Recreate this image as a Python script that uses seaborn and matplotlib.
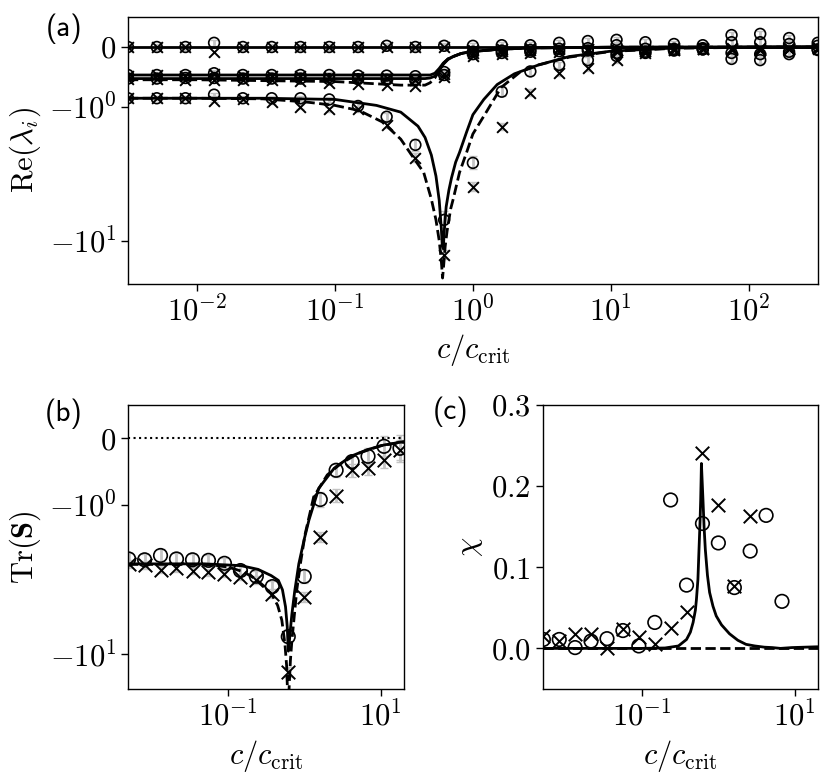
import matplotlib
matplotlib.use("Agg")
import matplotlib.pyplot as plt
import seaborn as sns

# sampled c/c_crit grid of the simulations
x_data = [0.00316, 0.00511, 0.00825, 0.0133, 0.0215, 0.0348, 0.0562, 0.0909, 0.147,
          0.237, 0.383, 0.619, 1.0, 1.62, 2.61, 4.22, 6.81, 11.0, 17.8, 28.7,
          46.4, 75.0, 121.0, 196.0, 316.0]

# (a) eigenvalues, circles
ca1 = [0.0, 0.0, 0.0, 0.07, 0.0, 0.0, 0.0, 0.0, 0.0, 0.02, 0.0, 0.02,
       0.02, 0.03, 0.03, 0.07, 0.1, 0.12, 0.08, 0.05, 0.03, 0.2, 0.22, 0.15, 0.07]
ca2 = [-0.47, -0.47, -0.47, -0.44, -0.47, -0.47, -0.47, -0.47, -0.48, -0.48, -0.49, -0.42,
       -0.08, -0.06, -0.05, -0.03, -0.02, 0.03, -0.03, -0.03, -0.02, 0.08, 0.08, 0.05, 0.02]
ca3 = [-0.53, -0.53, -0.52, -0.52, -0.53, -0.53, -0.53, -0.54, -0.54, -0.55, -0.56, -0.47,
       -0.12, -0.1, -0.08, -0.07, -0.06, -0.1, -0.08, -0.05, -0.04, -0.2, -0.22, -0.12, -0.05]
ca4 = [-0.86, -0.86, -0.86, -0.8, -0.86, -0.86, -0.86, -0.88, -0.99, -1.19, -1.93, -7.0,
       -2.63, -0.75, -0.41, -0.3, -0.22, -0.15, -0.1, -0.06, -0.04, -0.1, -0.12, -0.08, -0.04]
# (a) eigenvalues, crosses
xa1 = [0.0, 0.0, 0.0, -0.08, 0.0, 0.0, 0.0, 0.0, 0.0, 0.0, 0.0, 0.0,
       -0.05, -0.03, -0.02, -0.02, -0.03, -0.05, -0.06, -0.02, -0.02, -0.03, -0.05, -0.03, -0.02]
xa2 = [-0.48, -0.47, -0.48, -0.46, -0.48, -0.48, -0.49, -0.5, -0.5, -0.52, -0.55, -0.45,
       -0.1, -0.07, -0.05, -0.04, -0.04, -0.05, -0.04, -0.03, -0.03, -0.04, -0.04, -0.03, -0.02]
xa3 = [-0.54, -0.54, -0.55, -0.56, -0.55, -0.56, -0.57, -0.6, -0.62, -0.64, -0.66, -0.5,
       -0.15, -0.12, -0.1, -0.08, -0.07, -0.08, -0.06, -0.05, -0.04, -0.05, -0.05, -0.04, -0.03]
xa4 = [-0.86, -0.86, -0.86, -0.9, -0.88, -0.93, -1.0, -1.05, -1.05, -1.37, -2.41, -12.8,
       -3.95, -1.41, -0.77, -0.44, -0.36, -0.22, -0.1, -0.05, -0.03, -0.02, -0.02, -0.01, -0.01]
ea4 = [0.03, 0.03, 0.03, 0.03, 0.03, 0.03, 0.04, 0.04, 0.05, 0.08, 0.2, 1.0,
       0.3, 0.08, 0.06, 0.05, 0.05, 0.05, 0.05, 0.05, 0.05, 0.06, 0.06, 0.05, 0.04]

# (a) theory curves
xa_m = [0.00316, 0.01, 0.1, 0.3, 0.45, 0.49, 0.53, 0.57, 0.61, 0.66, 0.72, 0.82, 0.95,
        1.5, 2.6, 10.0, 316.0]
ya_s2 = [-0.47, -0.47, -0.47, -0.47, -0.47, -0.47, -0.44, -0.36, -0.27, -0.2, -0.16,
         -0.11, -0.08, -0.04, -0.015, -0.004, 0.0]
ya_s3 = [-0.53, -0.53, -0.53, -0.53, -0.53, -0.52, -0.49, -0.4, -0.29, -0.21, -0.16,
         -0.11, -0.08, -0.04, -0.015, -0.004, 0.0]
ya_d2 = [-0.55, -0.55, -0.58, -0.64, -0.64, -0.6, -0.52, -0.4, -0.28, -0.2, -0.16,
         -0.11, -0.08, -0.04, -0.015, -0.004, 0.0]
xa_s4 = [0.00316, 0.01, 0.03, 0.1, 0.2, 0.3, 0.4, 0.45, 0.5, 0.54, 0.57, 0.59, 0.6, 0.61,
         0.62, 0.64, 0.67, 0.7, 0.75, 0.8, 0.9, 1.0, 1.2, 1.5, 2.0, 3.0, 5.0, 10.0, 30.0,
         100.0, 316.0]
ya_s4 = [-0.86, -0.86, -0.86, -0.88, -0.98, -1.1, -1.4, -1.7, -2.3, -3.3, -5.0, -8.0,
         -11.0, -11.5, -8.5, -5.6, -4.2, -3.4, -2.6, -2.2, -1.55, -1.15, -0.88, -0.63,
         -0.45, -0.3, -0.16, -0.07, -0.015, -0.004, -0.001]
xa_d4 = [0.00316, 0.01, 0.03, 0.06, 0.1, 0.15, 0.22, 0.3, 0.37, 0.44, 0.5, 0.54, 0.57,
         0.59, 0.603, 0.615, 0.63, 0.65, 0.69, 0.72, 0.8, 0.9, 1.0, 1.25, 1.6, 2.2, 3.0,
         5.0, 10.0, 30.0, 100.0, 316.0]
ya_d4 = [-0.86, -0.86, -0.87, -0.92, -0.98, -1.07, -1.3, -1.75, -2.4, -3.1, -4.9, -7.0,
         -10.0, -14.0, -19.0, -15.0, -11.0, -8.5, -5.8, -4.9, -3.1, -2.2, -1.6, -1.1,
         -0.68, -0.42, -0.3, -0.17, -0.075, -0.02, -0.005, -0.001]

# (b) trace of S
cb = [-2.30, -2.33, -2.18, -2.30, -2.33, -2.35, -2.46, -2.75, -3.0, -3.52, -7.6, -3.01,
      -0.92, -0.48, -0.35, -0.27, -0.12, -0.15]
xb = [-2.48, -2.53, -2.72, -2.64, -2.75, -2.82, -2.9, -3.04, -3.2, -3.93, -13.1, -4.14,
      -1.65, -0.86, -0.48, -0.45, -0.32, -0.17]
eb_c = [0.2, 0.2, 0.2, 0.2, 0.2, 0.2, 0.2, 0.2, 0.25, 0.3, 0.8, 0.3, 0.12, 0.1, 0.1,
        0.12, 0.15, 0.2]
eb_x = [0.15, 0.15, 0.15, 0.15, 0.15, 0.15, 0.15, 0.15, 0.2, 0.25, 1.0, 0.3, 0.12, 0.1,
        0.1, 0.1, 0.12, 0.15]
xb_s = [0.005, 0.05, 0.15, 0.25, 0.37, 0.46, 0.52, 0.57, 0.6, 0.62, 0.63, 0.66, 0.69,
        0.75, 0.85, 1.0, 1.15, 1.55, 2.46, 4.06, 6.7, 11.0, 20.0]
yb_s = [-2.48, -2.48, -2.55, -2.7, -2.97, -3.2, -3.7, -4.8, -6.5, -9.5, -9.0, -6.8, -5.4,
        -3.8, -2.48, -1.7, -1.27, -0.75, -0.45, -0.27, -0.17, -0.1, -0.05]
xb_d = [0.005, 0.05, 0.1, 0.16, 0.225, 0.3, 0.38, 0.45, 0.51, 0.56, 0.59, 0.61, 0.625,
        0.66, 0.69, 0.75, 0.8, 0.9, 1.03, 1.33, 2.0, 3.0, 5.0, 10.0, 20.0]
yb_d = [-2.5, -2.5, -2.6, -2.8, -3.1, -3.5, -4.0, -4.7, -5.9, -8.5, -12.0, -20.0, -20.0,
        -11.0, -8.1, -5.2, -3.7, -2.4, -1.56, -0.88, -0.55, -0.38, -0.23, -0.11, -0.055]

# (c) chi
cc = [0.011, 0.011, 0.001, 0.009, 0.012, 0.022, 0.003, 0.032, 0.183, 0.078, 0.154,
      0.130, 0.075, 0.120, 0.164, 0.058]
xc = [0.015, 0.009, 0.018, 0.018, 0.001, 0.024, 0.014, 0.005, 0.025, 0.045, 0.241,
      0.177, 0.077, 0.163]
xc_s = [0.005, 0.1, 0.2, 0.3, 0.383, 0.43, 0.467, 0.5, 0.516, 0.54, 0.558, 0.575, 0.587,
        0.595, 0.6, 0.61, 0.629, 0.65, 0.675, 0.72, 0.768, 0.85, 0.938, 1.1, 1.4, 1.8,
        2.3, 3.0, 4.0, 5.08, 6.5, 9.2, 20.0]
yc_s = [0.0, 0.0, 0.0005, 0.003, 0.011, 0.02, 0.032, 0.047, 0.06, 0.085, 0.122, 0.155,
        0.183, 0.21, 0.228, 0.212, 0.183, 0.15, 0.122, 0.09, 0.069, 0.052, 0.04, 0.029,
        0.018, 0.01, 0.005, 0.003, 0.0015, 0.001, 0.0, 0.001, 0.002]

sns.set_style("ticks", {"axes.edgecolor": "black", "xtick.color": "black",
                        "ytick.color": "black", "text.color": "black",
                        "axes.labelcolor": "black"})
plt.rcParams["font.family"] = ["cmr10"]
plt.rcParams["mathtext.fontset"] = "cm"
plt.rcParams["axes.formatter.use_mathtext"] = True
plt.rcParams["font.size"] = 22
plt.rcParams["axes.linewidth"] = 1.0
for a in ("xtick", "ytick"):
    plt.rcParams[a + ".major.size"] = 5
    plt.rcParams[a + ".major.width"] = 1.0

GREY = "#c4c4c4"
LW = 2.0


def points(ax, x, y, err, marker, s):
    if err is not None:
        ax.errorbar(x, y, yerr=err, fmt="none", ecolor=GREY, elinewidth=2,
                    capsize=3, zorder=1)
    if marker == "o":
        sns.scatterplot(x=x, y=y, ax=ax, marker="o", s=s, facecolors="none",
                        edgecolor="black", linewidth=1.2, zorder=3)
    else:
        sns.scatterplot(x=x, y=y, ax=ax, marker="x", s=s, color="black",
                        linewidth=1.4, zorder=3)


def curve(ax, x, y, ls):
    sns.lineplot(x=x, y=y, ax=ax, color="black", lw=LW, linestyle=ls, zorder=2)


fig = plt.figure(figsize=(8.31, 7.82), dpi=100)
axa = fig.add_axes([0.154, 0.637, 0.830, 0.341])
axb = fig.add_axes([0.154, 0.119, 0.332, 0.363])
axc = fig.add_axes([0.653, 0.119, 0.331, 0.363])

# ---- (a)
axa.axhline(0, color="black", lw=LW, zorder=2)
curve(axa, xa_m, ya_s2, "-")
curve(axa, xa_m, ya_s3, "-")
curve(axa, xa_m, ya_d2, "--")
curve(axa, xa_s4, ya_s4, "-")
curve(axa, xa_d4, ya_d4, "--")
for yc, ye in [(ca1, 0.05), (ca2, 0.05), (ca3, 0.05), (ca4, ea4)]:
    points(axa, x_data, yc, ye, "o", 60)
for yx, ye in [(xa1, None), (xa2, None), (xa3, None), (xa4, ea4)]:
    points(axa, x_data, yx, ye, "x", 60)
axa.set_xscale("log")
axa.set_yscale("symlog", linthresh=1, linscale=0.4)
axa.set_xlim(0.00316, 316)
axa.set_ylim(-21, 0.5)
axa.set_xticks([1e-2, 1e-1, 1e0, 1e1, 1e2])
axa.minorticks_off()
axa.set_xlabel(r"$c/c_{\mathrm{crit}}$")
axa.set_ylabel(r"$\mathrm{Re}(\lambda_i)$")

# ---- (b)
axb.axhline(0, color="black", lw=1.5, ls=":", zorder=2)
curve(axb, xb_s, yb_s, "-")
curve(axb, xb_d, yb_d, "--")
points(axb, x_data[1:19], cb, eb_c, "o", 95)
points(axb, x_data[1:19], xb, eb_x, "x", 95)
axb.set_xscale("log")
axb.set_yscale("symlog", linthresh=1, linscale=0.4)
axb.set_xlim(0.005, 20)
axb.set_ylim(-17, 0.5)
axb.set_xticks([1e-1, 1e1])
axb.minorticks_off()
axb.set_xlabel(r"$c/c_{\mathrm{crit}}$")
axb.set_ylabel(r"$\mathrm{Tr}(\mathbf{S})$")

# ---- (c)
axc.axhline(0, color="black", lw=LW, ls="--", zorder=2)
curve(axc, xc_s, yc_s, "-")
points(axc, x_data[1:17], cc, None, "o", 95)
points(axc, x_data[1:15], xc, None, "x", 95)
axc.set_xscale("log")
axc.set_xlim(0.005, 20)
axc.set_ylim(-0.05, 0.3)
axc.set_xticks([1e-1, 1e1])
axc.set_yticks([0.0, 0.1, 0.2, 0.3])
axc.minorticks_off()
axc.set_xlabel(r"$c/c_{\mathrm{crit}}$")
axc.set_ylabel(r"$\chi$")

for lab, xy in [("(a)", (0.077, 0.963)), ("(b)", (0.077, 0.471)), ("(c)", (0.542, 0.473))]:
    fig.text(xy[0], xy[1], lab, family="cmss10", fontsize=21, ha="center", va="center")

fig.savefig("out.png", dpi=100)
